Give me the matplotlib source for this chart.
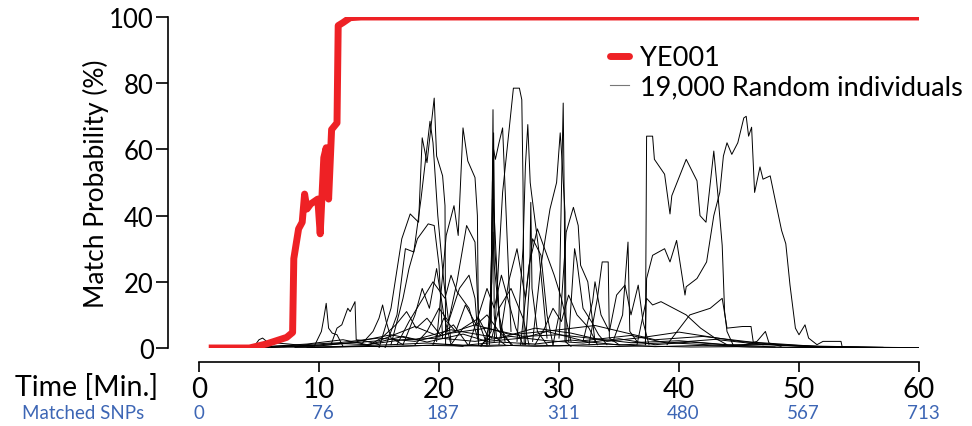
import matplotlib
matplotlib.use('Agg')
import matplotlib.pyplot as plt
import matplotlib.transforms as mtransforms
from matplotlib.lines import Line2D

plt.rcParams['font.family'] = ['Lato', 'DejaVu Sans']

# ---------------- data ----------------
time_ticks = [0, 10, 20, 30, 40, 50, 60]
prob_ticks = [0, 20, 40, 60, 80, 100]
snp_labels = ['0', '76', '187', '311', '480', '567', '713']

# YE001 (red)
ye001_t = [1.1, 4.2, 5.6, 7.3, 7.8, 7.9, 8.3, 8.6, 8.8, 9.0, 9.3, 9.9, 10.1,
           10.4, 10.6, 10.8, 11.05, 11.5, 11.6, 12.0, 12.6, 13.5, 60]
ye001_y = [0, 0, 1.2, 3.2, 4.7, 27, 36, 38, 46.5, 42, 43.5, 45, 34.5,
           57.5, 60.5, 45, 66, 68, 97.4, 98.3, 99.8, 100, 100]

# random individuals (black) - the visible ones
ind01_t = [4.5, 5.0, 5.3, 5.8, 6.5, 7.5, 8.5, 9.5]
ind01_y = [0, 2.5, 3, 1.5, 1.5, 1.2, 0.8, 0.5]
ind02_t = [9.6, 10.2, 10.4, 10.6, 10.8, 11.1, 11.5, 12.0]
ind02_y = [0.5, 5, 9, 13.5, 6, 4.5, 4, 0.5]
ind03_t = [11.0, 11.5, 11.9, 12.4, 12.6, 13.0, 13.1, 14.0, 15.0]
ind03_y = [1, 6, 7, 12, 11, 14, 2.5, 2, 1]
ind04_t = [13.5, 14.5, 15.0, 15.3, 15.6, 16.0, 17.0]
ind04_y = [1, 5, 9, 13, 8, 3, 1]
ind05_t = [15.0, 16.0, 16.9, 17.6, 18.3, 18.6, 19.0, 19.6, 19.8, 20.3, 20.5, 20.55, 22.0]
ind05_y = [0, 12, 33, 40.5, 38, 63.5, 56, 75.5, 58, 52, 43, 1, 0.5]
ind06_t = [15.5, 16.5, 17.2, 17.9, 18.5, 19.25, 19.5, 19.9, 20.4, 21.0]
ind06_y = [0, 10, 30, 29, 45, 68.5, 62, 40, 20, 2]
ind07_t = [16.0, 17.0, 17.5, 18.2, 19.1, 19.6, 20.0, 20.3]
ind07_y = [1, 15, 24, 33, 37.5, 37, 25, 3]
ind08_t = [19.8, 20.6, 21.25, 21.6, 22.0, 22.4, 23.0, 23.2, 23.3]
ind08_y = [2, 34, 43, 34, 66.5, 56.5, 51.5, 40, 1]
ind09_t = [20.5, 21.5, 22.3, 23.0, 23.3, 24.0]
ind09_y = [3, 20, 37, 32, 8, 1]
ind10_t = [23.5, 24.2, 24.4, 24.5, 24.6, 24.8, 25.5]
ind10_y = [1, 3, 30, 72, 10, 3, 1]
ind11_t = [23.8, 24.3, 24.45, 24.55, 24.7, 25.0, 25.3, 25.6, 26.0]
ind11_y = [2, 8, 50, 60, 57, 62, 66.5, 40, 5]
ind12_t = [23.5, 24.35, 24.45, 24.6, 25.0, 25.5]
ind12_y = [0.5, 5, 45, 40, 10, 2]
ind13_t = [24.0, 24.4, 24.5, 24.6, 25.2]
ind13_y = [1, 20, 35, 25, 3]
ind14_t = [24.6, 25.3, 26.2, 26.7, 26.9, 27.0, 27.1]
ind14_y = [2, 47, 78.5, 78.5, 75, 50, 1]
ind15_t = [26.5, 27.0, 27.2, 27.4, 27.6, 27.7, 28.3, 29.0]
ind15_y = [2, 30, 55, 67.5, 50, 47, 30, 3]
ind16_t = [27.8, 28.5, 29.25, 29.8, 30.1, 30.25, 30.5, 30.6]
ind16_y = [2, 25, 42, 50, 65, 57, 41, 2]
ind17_t = [29.5, 30.0, 30.35, 30.45, 30.5, 31.0]
ind17_y = [1, 10, 74, 40, 2, 0.5]
ind18_t = [30.0, 30.6, 31.2, 31.6, 31.8, 32.4, 33.0]
ind18_y = [3, 35, 42.5, 37, 25, 20, 2]
ind19_t = [32.5, 33.2, 33.6, 34.1, 34.2, 35.0]
ind19_y = [1, 15, 26, 26, 3, 1]
ind20_t = [34.5, 35.3, 35.75, 35.9, 36.5]
ind20_y = [2, 10, 32, 5, 2]
ind21_t = [37.2, 37.3, 37.8, 37.95, 38.8, 39.25, 39.4, 40.6, 41.5, 41.75,
           42.25, 42.9, 43.25, 43.6, 43.8, 44.0, 44.5]
ind21_y = [1, 64, 64, 57, 52.5, 40.5, 46, 57, 50.5, 40,
           38, 59.5, 46, 31, 11, 5, 1]
ind22_t = [37.2, 37.3, 37.8, 38.8, 39.25, 39.8, 40.5, 40.6, 41.5, 42.3, 42.9,
           43.4, 43.7, 44.0, 44.4, 44.9, 45.4, 45.6, 45.8, 46.05, 46.3, 46.75,
           47.0, 47.6, 48.0, 48.55, 48.9, 49.25, 49.7, 50.0, 50.5, 50.8, 51.5,
           52.0, 53.5, 53.6]
ind22_y = [1, 21, 28, 30, 26, 32.5, 16, 18.5, 21, 26, 40,
           47, 58, 62, 58.5, 62, 69.5, 70, 64, 66.7, 47, 54.7,
           51, 52, 45, 35.5, 31.5, 19, 6, 4, 7, 3, 1,
           2, 2, 0.3]
ind23_t = [36.5, 37.3, 37.8, 38.5, 40.6, 41.8, 43.0, 44.0]
ind23_y = [1, 15, 13, 14, 10, 6, 3, 1]
ind24_t = [39.0, 40.9, 42.6, 43.6, 44.0, 45.3, 46.0, 46.2, 47.0]
ind24_y = [1, 10, 12, 15, 6, 6.5, 6.5, 1.5, 1]
ind25_t = [45.5, 46.5, 47.2, 47.5, 48.5]
ind25_y = [1, 2, 5, 1.5, 0.5]
ind26_t = [32.0, 32.8, 33.0, 33.5, 34.2, 34.8, 35.5, 36.0, 36.6, 37.0, 37.5]
ind26_y = [2, 14, 20, 10, 5, 16, 19, 10, 19, 8, 1]
ind27_t = [30.8, 31.3, 31.5, 32.0, 32.7, 33.3, 34.0]
ind27_y = [2, 30, 26, 12, 8, 4, 1]
ind28_t = [16.5, 17.5, 18.5, 19.5, 20.5, 21.0, 21.5, 22.5, 23.3]
ind28_y = [1, 8, 14, 20, 15, 22, 17, 12, 2]
ind29_t = [18.0, 19.0, 20.0, 20.8, 21.7, 22.5, 23.0, 23.3]
ind29_y = [1, 5, 12, 8, 18, 22, 15, 1]
ind30_t = [21.0, 22.0, 23.3, 24.0, 24.4, 25.0, 26.0, 27.0, 27.5]
ind30_y = [1, 6, 9, 4, 3, 12, 18, 9, 1]
ind31_t = [25.0, 25.8, 26.5, 27.2, 27.8, 28.5, 29.0, 29.5]
ind31_y = [1, 20, 30, 15, 33, 28, 10, 1]
ind32_t = [26.8, 27.5, 28.2, 28.8, 29.6, 30.2, 31.0]
ind32_y = [1, 25, 36, 30, 22, 15, 2]
ind33_t = [28.0, 28.8, 29.5, 30.2, 30.8, 31.5, 32.5, 33.2]
ind33_y = [1, 6, 12, 8, 16, 10, 6, 1]
ind34_t = [22.5, 23.3, 24.0, 24.6, 25.2, 25.8, 26.4, 27.0]
ind34_y = [1, 10, 18, 12, 22, 14, 6, 1]
ind35_t = [17.0, 18.0, 18.6, 19.2, 19.8, 20.4, 21.0]
ind35_y = [1, 10, 18, 12, 24, 10, 1]
ind36_t = [24.2, 24.45, 24.55, 24.65, 25.1, 26.0]
ind36_y = [1, 40, 65, 30, 6, 1]
ind37_t = [27.2, 27.55, 27.65, 27.75, 28.2, 29.0]
ind37_y = [1, 20, 44, 18, 5, 1]
ind38_t = [14.0, 15.2, 16.4, 17.3, 18.1, 19.0, 20.1, 21.2, 22.4]
ind38_y = [0.5, 3, 7, 11, 6, 9, 4, 7, 1]
ind39_t = [19.5, 20.4, 21.4, 22.2, 23.1, 24.0, 25.0, 26.1]
ind39_y = [1, 9, 5, 13, 7, 10, 5, 1]

# the crowd that stays near zero
low1_t = [5, 8, 11, 14, 17, 20, 23, 26, 29, 32, 35, 38, 41, 44, 47, 50, 54, 60]
low1_y = [0.3, 0.8, 1.5, 1.0, 2.5, 3.0, 2.0, 3.5, 2.2, 1.5, 2.8, 1.0, 1.8, 0.9, 1.2, 0.5, 0.3, 0.1]
low2_t = [6, 9, 12, 14, 17, 19, 22, 24, 27, 29, 32, 36, 39, 43, 47, 52, 56, 60]
low2_y = [0.5, 1.2, 2.5, 1.0, 3.5, 1.8, 4.2, 2.0, 3.0, 5.0, 2.2, 3.8, 1.5, 2.6, 1.0, 0.4, 0.2, 0.1]
low3_t = [5.5, 10, 13, 16, 18, 21, 25, 28, 31, 34, 37, 40, 45, 49, 53, 58]
low3_y = [0.2, 0.6, 1.8, 4.0, 2.5, 5.5, 3.0, 6.0, 4.5, 2.0, 3.2, 4.8, 2.0, 0.8, 0.3, 0.1]
low4_t = [7, 11, 15, 18, 20, 23, 26, 30, 33, 38, 42, 46, 51, 57]
low4_y = [0.4, 1.0, 2.2, 6.5, 3.5, 7.0, 4.0, 5.5, 6.8, 2.5, 3.5, 1.8, 0.6, 0.2]
low5_t = [8, 12, 16, 19, 22, 25, 28, 31, 35, 39, 44, 48, 52, 55]
low5_y = [0.2, 0.5, 1.0, 1.5, 0.8, 1.8, 1.2, 2.4, 0.9, 1.6, 0.7, 1.1, 0.4, 0.2]
low6_t = [9, 13, 17, 21, 24, 27, 30, 34, 38, 42, 46, 50, 59]
low6_y = [0.1, 0.4, 0.6, 1.0, 0.5, 0.9, 0.7, 1.2, 0.4, 0.8, 0.3, 0.2, 0.05]
low7_t = [5, 7, 10, 13, 16, 19, 22, 25, 28, 31, 34, 37, 41, 45, 49, 53]
low7_y = [0.1, 0.3, 0.2, 0.5, 0.4, 0.8, 0.6, 0.9, 0.5, 0.7, 0.4, 0.6, 0.3, 0.4, 0.2, 0.1]
low8_t = [6, 10, 15, 18, 21, 24, 27, 30, 33, 36, 40, 44, 48]
low8_y = [0.2, 0.9, 3.0, 2.0, 4.5, 6.0, 3.5, 4.0, 2.8, 1.6, 2.2, 1.0, 0.3]

random_individuals = [
    (ind01_t, ind01_y), (ind02_t, ind02_y), (ind03_t, ind03_y), (ind04_t, ind04_y),
    (ind05_t, ind05_y), (ind06_t, ind06_y), (ind07_t, ind07_y), (ind08_t, ind08_y),
    (ind09_t, ind09_y), (ind10_t, ind10_y), (ind11_t, ind11_y), (ind12_t, ind12_y),
    (ind13_t, ind13_y), (ind14_t, ind14_y), (ind15_t, ind15_y), (ind16_t, ind16_y),
    (ind17_t, ind17_y), (ind18_t, ind18_y), (ind19_t, ind19_y), (ind20_t, ind20_y),
    (ind21_t, ind21_y), (ind22_t, ind22_y), (ind23_t, ind23_y), (ind24_t, ind24_y),
    (ind25_t, ind25_y), (ind26_t, ind26_y), (ind27_t, ind27_y), (ind28_t, ind28_y),
    (ind29_t, ind29_y), (ind30_t, ind30_y), (ind31_t, ind31_y), (ind32_t, ind32_y),
    (ind33_t, ind33_y), (ind34_t, ind34_y), (ind35_t, ind35_y), (ind36_t, ind36_y),
    (ind37_t, ind37_y), (ind38_t, ind38_y), (ind39_t, ind39_y),
    (low1_t, low1_y), (low2_t, low2_y), (low3_t, low3_y), (low4_t, low4_y),
    (low5_t, low5_y), (low6_t, low6_y), (low7_t, low7_y), (low8_t, low8_y),
]

# ---------------- figure ----------------
W, H = 972, 427
fig = plt.figure(figsize=(W / 100, H / 100), dpi=100)
ax = fig.add_axes([199 / W, (H - 349) / H, 720 / W, 331 / H])

for t, y in random_individuals:
    ax.plot(t, y, color='black', lw=0.7)
ax.plot(ye001_t, ye001_y, color='#ee2125', lw=5, solid_joinstyle='round',
        zorder=5)

ax.set_xlim(0, 60)
ax.set_ylim(0, 100)
ax.set_xticks(time_ticks)
ax.set_yticks(prob_ticks)
ax.tick_params(length=8.5, width=1.2, pad=2)
ax.tick_params(axis='y', labelsize=18.5)
ax.tick_params(axis='x', labelsize=20, length=7, pad=3)
for s in ['top', 'right']:
    ax.spines[s].set_visible(False)
ax.spines['left'].set_position(('outward', 22))
ax.spines['bottom'].set_position(('outward', 10))
ax.spines['left'].set_bounds(0, 100)
ax.spines['bottom'].set_bounds(0, 60)
ax.spines['left'].set_linewidth(1.2)
ax.spines['bottom'].set_linewidth(1.2)
ax.set_ylabel('Match Probability (%)', fontsize=19, labelpad=0)

fig.text(158 / W, (H - 388) / H, 'Time [Min.]', fontsize=20.5,
         ha='right', va='center')

# matched SNP counts under the time axis
blue = '#3d66b5'
trans = mtransforms.blended_transform_factory(ax.transData, fig.transFigure)
for xt, lab in zip(time_ticks, snp_labels):
    ax.text(xt + (0.35 if xt > 0 else 0), (H - 414) / H, lab, transform=trans,
            color=blue, fontsize=13.5, ha='center', va='center')
fig.text(83 / W, (H - 414) / H, 'Matched SNPs', color=blue, fontsize=13.5,
         ha='center', va='center')

legend_handles = [Line2D([], [], color='#ee2125', lw=5, solid_capstyle='round'),
                  Line2D([], [], color='#777777', lw=0.8)]
ax.legend(legend_handles, ['YE001', '19,000 Random individuals'],
          loc='upper left', bbox_to_anchor=(610 / W, (H - 46) / H),
          bbox_transform=fig.transFigure, frameon=False, fontsize=19.5,
          handlelength=0.7, handletextpad=0.4, labelspacing=0.15,
          borderpad=0, borderaxespad=0)

fig.savefig('out.png', dpi=100)
